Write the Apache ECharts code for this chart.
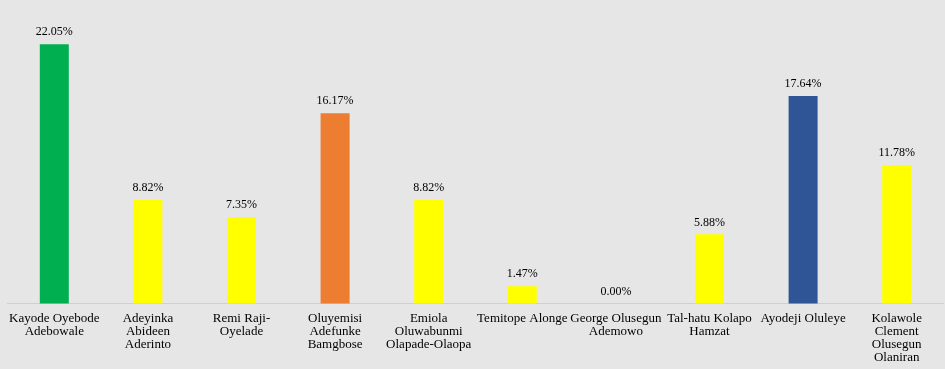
<!DOCTYPE html>
<html><head><meta charset="utf-8">
<script src="https://cdn.jsdelivr.net/npm/echarts@6/dist/echarts.min.js"></script>
<style>html,body{margin:0;padding:0;background:#e6e6e6;}#c{width:945px;height:369px;}</style>
</head><body><div id="c"></div>
<script>
const categories = [
  "Kayode Oyebode\nAdebowale",
  "Adeyinka\nAbideen\nAderinto",
  "Remi Raji-\nOyelade",
  "Oluyemisi\nAdefunke\nBamgbose",
  "Emiola\nOluwabunmi\nOlapade-Olaopa",
  "Temitope Alonge",
  "George Olusegun\nAdemowo",
  "Tal-hatu Kolapo\nHamzat",
  "Ayodeji Oluleye",
  "Kolawole\nClement\nOlusegun\nOlaniran"
];
const values = [22.05, 8.82, 7.35, 16.17, 8.82, 1.47, 0.00, 5.88, 17.64, 11.78];
const barColors = ["#00b050", "#ffff00", "#ffff00", "#ed7d31", "#ffff00", "#ffff00", "#ffff00", "#ffff00", "#2f5597", "#ffff00"];

const chart = echarts.init(document.getElementById('c'), null, {renderer: 'canvas'});
chart.setOption({
  backgroundColor: '#e6e6e6',
  animation: false,
  grid: {left: 7.5, right: 1.5, top: 9.5, bottom: 65.5, containLabel: false},
  xAxis: {
    type: 'category',
    data: categories,
    axisLine: {lineStyle: {color: '#cfcfcf', width: 1}},
    axisTick: {show: false},
    axisLabel: {
      interval: 0,
      fontFamily: 'Liberation Serif',
      fontSize: 13,
      lineHeight: 13,
      color: '#000',
      margin: 9
    }
  },
  yAxis: {
    type: 'value',
    min: 0,
    max: 25,
    show: false,
    splitLine: {show: false}
  },
  series: [{
    type: 'bar',
    data: values.map((v, i) => ({value: v, itemStyle: {color: barColors[i]}})),
    barWidth: 29,
    label: {
      show: true,
      position: 'top',
      distance: 6,
      fontFamily: 'Liberation Serif',
      fontSize: 12,
      color: '#000',
      formatter: p => p.value.toFixed(2) + '%'
    }
  }]
});
</script>
</body></html>
